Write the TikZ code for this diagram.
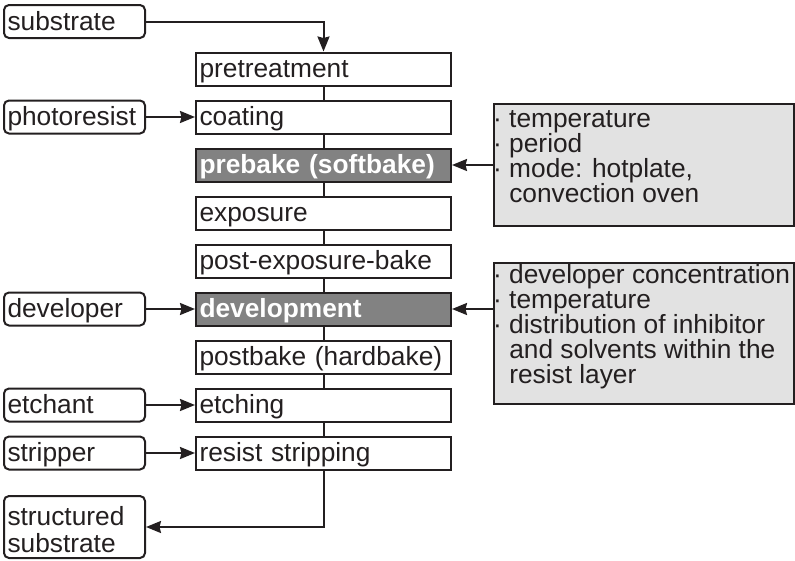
\documentclass[tikz,border=0pt]{standalone}
\usepackage{fontspec}
\setmainfont{Liberation Sans}
\usetikzlibrary{arrows.meta,calc}
\definecolor{ink}{HTML}{231F20}
\definecolor{darkfill}{HTML}{828282}
\definecolor{lightfill}{HTML}{E2E2E2}
\begin{document}
\begin{tikzpicture}[x=1pt,y=-1pt,
  every node/.style={font=\fontsize{26.3}{25}\selectfont},
  proc/.style={draw=ink, line width=2pt, rectangle, minimum width=255pt, minimum height=33pt,
    text width=248pt, inner xsep=3.5pt, inner ysep=0pt, align=left, text height=17.6pt, text depth=0pt, text=ink},
  hot/.style={proc, fill=darkfill, text=white, font=\fontsize{26.3}{25}\selectfont\bfseries},
  inp/.style={draw=ink, line width=2pt, rectangle, rounded corners=5pt, minimum width=141pt, minimum height=33pt,
    text width=134pt, inner xsep=3.5pt, inner ysep=0pt, align=left, text height=17.6pt, text depth=0pt, text=ink},
  note/.style={draw=ink, line width=2pt, rectangle, fill=lightfill, minimum width=300pt},
  notetext/.style={anchor=north west, inner sep=0pt, align=left, text=ink},
  link/.style={draw=ink, line width=2pt},
  arr/.style={link, -{Stealth[length=15pt,width=12pt,inset=1.5pt]}}
]
\useasboundingbox (0,0) rectangle (795,560);

% process column
\node[proc] (pre)  at (323.5,69)  {pretreatment};
\node[proc] (coat) at (323.5,117) {coating};
\node[hot]  (soft) at (323.5,165) {prebake (softbake)};
\node[proc] (expo) at (323.5,213) {exposure};
\node[proc] (peb)  at (323.5,261) {post-exposure-bake};
\node[hot]  (dev)  at (323.5,309) {development};
\node[proc] (hard) at (323.5,357) {postbake (hardbake)};
\node[proc] (etch) at (323.5,405) {etching};
\node[proc] (strip) at (323.5,453) {resist stripping};

% inputs
\node[inp] (sub)   at (74.5,21.5) {substrate};
\node[inp] (photo) at (74.5,117)  {photoresist};
\node[inp] (devr)  at (74.5,309)  {developer};
\node[inp] (etchant) at (74.5,405) {etchant};
\node[inp] (stripper) at (74.5,453) {stripper};
\node[inp, minimum height=62pt, text height=17.6pt, text depth=0pt] (out) at (74.5,527)
  {\begin{minipage}{134pt}\fontsize{26.3}{27.5}\selectfont structured\\substrate\end{minipage}};

% parameter boxes
\node[note, minimum height=122pt] (n1) at (644,165) {};
\node[note, minimum height=141pt] (n2) at (644,333.5) {};
\node[notetext] (t1) at ($(n1.north west)+(0,5.8)$)
  {\rule{0pt}{18pt}·\ temperature\\·\ period\\·\ mode: hotplate,\\\phantom{·\ }convection oven};
\node[notetext] (t2) at ($(n2.north west)+(0,2)$)
  {\rule{0pt}{18pt}·\ developer concentration\\·\ temperature\\·\ distribution of inhibitor\\\phantom{·\ }and solvents within the\\\phantom{·\ }resist layer};

% column links
\foreach \a/\b in {pre/coat,coat/soft,soft/expo,expo/peb,peb/dev,dev/hard,hard/etch,etch/strip}
  \draw[link] (\a.south) -- (\b.north);

% arrows
\draw[arr] (sub.east) -| (pre.north);
\draw[arr] (photo.east) -- (coat.west);
\draw[arr] (devr.east) -- (dev.west);
\draw[arr] (etchant.east) -- (etch.west);
\draw[arr] (stripper.east) -- (strip.west);
\draw[arr] (strip.south) |- (out.east);
\draw[arr] (n1.west |- soft.east) -- (soft.east);
\draw[arr] (n2.west |- dev.east) -- (dev.east);
\end{tikzpicture}
\end{document}
